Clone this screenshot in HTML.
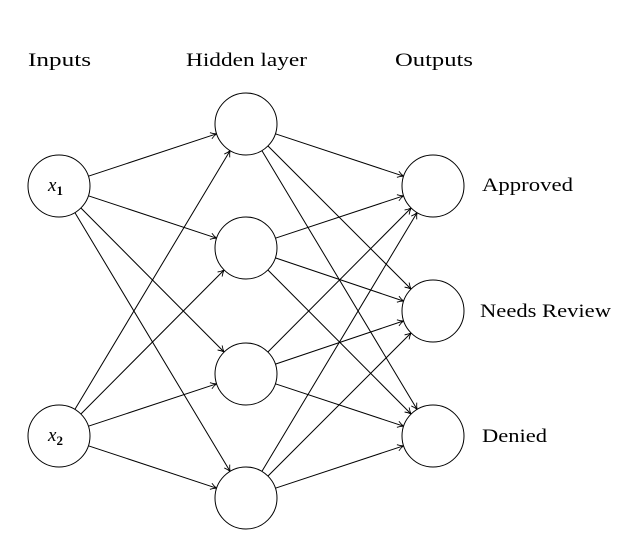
<!DOCTYPE html>
<html><head><meta charset="utf-8"><style>
html,body{margin:0;padding:0;background:#fff;}
svg{display:block;}
text{font-family:"Liberation Serif",serif;font-size:19px;fill:#000;}
</style></head><body>
<svg width="635" height="546" viewBox="0 0 635 546" xmlns="http://www.w3.org/2000/svg">
<defs>
<marker id="a" markerWidth="10" markerHeight="10" refX="7" refY="4" orient="auto" markerUnits="userSpaceOnUse">
<path d="M1,0.8 Q4,3 7,4 Q4,5 1,7.2" fill="none" stroke="#000" stroke-width="0.9"/>
</marker>
</defs>
<g stroke="#000" stroke-width="1" fill="none" marker-end="url(#a)">
<line x1="88.4" y1="176.2" x2="216.6" y2="133.8"/>
<line x1="88.4" y1="195.8" x2="216.6" y2="238.2"/>
<line x1="80.9" y1="208.0" x2="224.1" y2="352.0"/>
<line x1="74.9" y1="212.6" x2="230.1" y2="471.4"/>
<line x1="74.9" y1="409.4" x2="230.1" y2="150.6"/>
<line x1="80.9" y1="414.0" x2="224.1" y2="270.0"/>
<line x1="88.4" y1="426.2" x2="216.6" y2="383.8"/>
<line x1="88.4" y1="445.8" x2="216.6" y2="488.2"/>
<line x1="275.4" y1="133.8" x2="403.6" y2="176.2"/>
<line x1="267.9" y1="145.9" x2="411.1" y2="289.1"/>
<line x1="261.9" y1="150.6" x2="417.1" y2="409.4"/>
<line x1="275.4" y1="238.2" x2="403.6" y2="195.8"/>
<line x1="275.4" y1="257.9" x2="403.6" y2="301.1"/>
<line x1="267.9" y1="270.0" x2="411.1" y2="414.0"/>
<line x1="267.9" y1="352.0" x2="411.1" y2="208.0"/>
<line x1="275.4" y1="364.1" x2="403.6" y2="320.9"/>
<line x1="275.4" y1="383.8" x2="403.6" y2="426.2"/>
<line x1="261.9" y1="471.4" x2="417.1" y2="212.6"/>
<line x1="267.9" y1="476.1" x2="411.1" y2="332.9"/>
<line x1="275.4" y1="488.2" x2="403.6" y2="445.8"/>
</g>
<g stroke="#000" stroke-width="1" fill="#fff">
<circle cx="59" cy="186" r="31"/>
<circle cx="59" cy="436" r="31"/>
<circle cx="246" cy="124" r="31"/>
<circle cx="246" cy="248" r="31"/>
<circle cx="246" cy="374" r="31"/>
<circle cx="246" cy="498" r="31"/>
<circle cx="433" cy="186" r="31"/>
<circle cx="433" cy="311" r="31"/>
<circle cx="433" cy="436" r="31"/>
</g>
<text x="28" y="66" textLength="63" lengthAdjust="spacingAndGlyphs">Inputs</text>
<text x="186" y="66" textLength="121" lengthAdjust="spacingAndGlyphs">Hidden layer</text>
<text x="395" y="66" textLength="78" lengthAdjust="spacingAndGlyphs">Outputs</text>
<text x="48" y="191" font-style="italic">x<tspan font-size="13" dy="4" font-style="normal" font-weight="bold">1</tspan></text>
<text x="48" y="441" font-style="italic">x<tspan font-size="13" dy="4" font-style="normal" font-weight="bold">2</tspan></text>
<text x="482" y="191" textLength="91" lengthAdjust="spacingAndGlyphs">Approved</text>
<text x="480" y="317" textLength="131" lengthAdjust="spacingAndGlyphs">Needs Review</text>
<text x="482" y="442" textLength="65" lengthAdjust="spacingAndGlyphs">Denied</text>
</svg>
</body></html>
